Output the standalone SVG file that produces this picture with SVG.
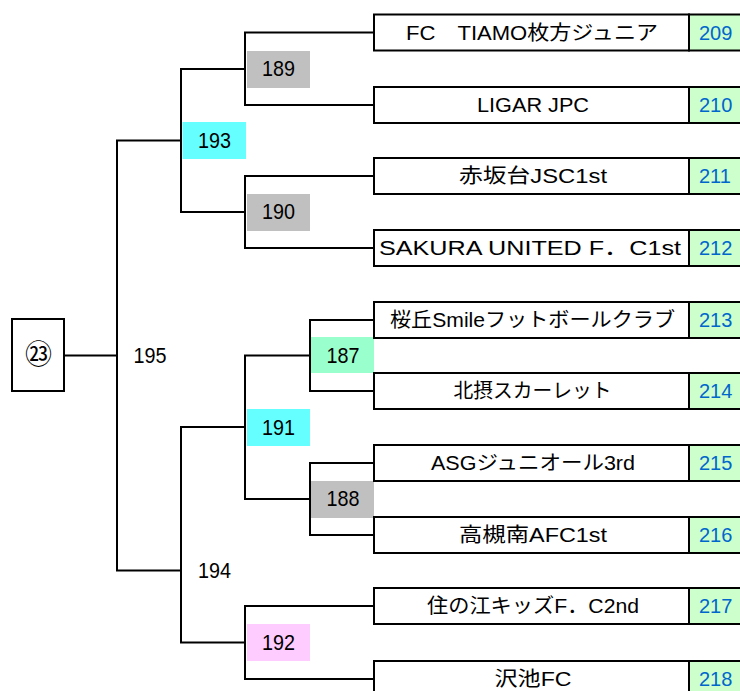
<svg xmlns="http://www.w3.org/2000/svg" width="740" height="691" viewBox="0 0 740 691">
<style>
.ln{fill:none;stroke:#000;stroke-width:2;stroke-linecap:square}
.box{fill:#fff;stroke:#000;stroke-width:2}
.num{fill:#CCFFCC;stroke:#000;stroke-width:2}
.nm{font-family:"Liberation Sans","Noto Sans CJK JP",sans-serif;font-size:20px;fill:#000;text-anchor:middle}
.no{font-family:"Liberation Sans",sans-serif;font-size:20px;fill:#0066CC}
.lb{font-family:"Liberation Sans",sans-serif;font-size:22px;fill:#000;text-anchor:middle}
.gray{fill:#C0C0C0}.cyan{fill:#66FFFF}.mint{fill:#99FFCC}.pink{fill:#FFCCFF}
</style>
<rect width="740" height="691" fill="#fff"/>
<g id="connectors">
<path class="ln" d="M64 355.5H117M117 140.5V570.5M117 140.5H181M181 69V212M181 69H245M245 32.5V105M245 32.5H374M245 105H374M181 212H245M245 176V248M245 176H374M245 248H374M117 570.5H181M181 427V642.5M181 427H245M245 355.5V499M245 355.5H310M310 320V391M310 320H374M310 391H374M245 499H310M310 463V535M310 463H374M310 535H374M181 642.5H245M245 606V679M245 606H374M245 679H374"/>
</g>
<g id="node-23"><rect class="box" x="12" y="319" width="52" height="72"/><text x="38.5" y="364" font-family="'Noto Sans CJK JP',sans-serif" font-size="27" text-anchor="middle">㉓</text></g>
<g id="m195"><text class="lb" x="150" y="362.5" textLength="33" lengthAdjust="spacingAndGlyphs">195</text></g>
<g id="m194"><text class="lb" x="214.5" y="577.5" textLength="33" lengthAdjust="spacingAndGlyphs">194</text></g>
<g id="m193"><rect class="cyan" x="182.5" y="122" width="63.5" height="37"/><text class="lb" x="214.5" y="147.5" textLength="33" lengthAdjust="spacingAndGlyphs">193</text></g>
<g id="m189"><rect class="gray" x="247" y="51" width="63" height="37"/><text class="lb" x="278.5" y="76" textLength="33" lengthAdjust="spacingAndGlyphs">189</text></g>
<g id="m190"><rect class="gray" x="247" y="194" width="63" height="37"/><text class="lb" x="278.5" y="219" textLength="33" lengthAdjust="spacingAndGlyphs">190</text></g>
<g id="m191"><rect class="cyan" x="247" y="409" width="63" height="37"/><text class="lb" x="278.5" y="434.5" textLength="33" lengthAdjust="spacingAndGlyphs">191</text></g>
<g id="m187"><rect class="mint" x="311" y="337" width="63" height="36"/><text class="lb" x="343" y="362.5" textLength="33" lengthAdjust="spacingAndGlyphs">187</text></g>
<g id="m188"><rect class="gray" x="311" y="481" width="63" height="37"/><text class="lb" x="343" y="506" textLength="33" lengthAdjust="spacingAndGlyphs">188</text></g>
<g id="m192"><rect class="pink" x="247" y="624" width="63" height="37"/><text class="lb" x="278.5" y="649.5" textLength="33" lengthAdjust="spacingAndGlyphs">192</text></g>
<g id="t209"><rect class="box" x="374" y="14.5" width="315" height="36"/><rect class="num" x="689" y="14.5" width="60" height="36"/><text class="nm" x="532" y="39.5" textLength="252" lengthAdjust="spacingAndGlyphs">FC　TIAMO枚方ジュニア</text><text class="no" x="699" y="39.5">209</text></g>
<g id="t210"><rect class="box" x="374" y="87" width="315" height="36"/><rect class="num" x="689" y="87" width="60" height="36"/><text class="nm" x="533" y="112" textLength="112" lengthAdjust="spacingAndGlyphs">LIGAR JPC</text><text class="no" x="699" y="112">210</text></g>
<g id="t211"><rect class="box" x="374" y="158" width="315" height="36"/><rect class="num" x="689" y="158" width="60" height="36"/><text class="nm" x="533" y="183" textLength="148" lengthAdjust="spacingAndGlyphs">赤坂台JSC1st</text><text class="no" x="699" y="183">211</text></g>
<g id="t212"><rect class="box" x="374" y="230" width="315" height="36"/><rect class="num" x="689" y="230" width="60" height="36"/><text class="nm" x="530" y="255" textLength="302" lengthAdjust="spacingAndGlyphs">SAKURA UNITED F．C1st</text><text class="no" x="699" y="255">212</text></g>
<g id="t213"><rect class="box" x="374" y="302" width="315" height="36"/><rect class="num" x="689" y="302" width="60" height="36"/><text class="nm" x="532.5" y="327" textLength="285" lengthAdjust="spacingAndGlyphs">桜丘Smileフットボールクラブ</text><text class="no" x="699" y="327">213</text></g>
<g id="t214"><rect class="box" x="374" y="373" width="315" height="36"/><rect class="num" x="689" y="373" width="60" height="36"/><text class="nm" x="532.5" y="398" textLength="158" lengthAdjust="spacingAndGlyphs">北摂スカーレット</text><text class="no" x="699" y="398">214</text></g>
<g id="t215"><rect class="box" x="374" y="445" width="315" height="36"/><rect class="num" x="689" y="445" width="60" height="36"/><text class="nm" x="533" y="470" textLength="204" lengthAdjust="spacingAndGlyphs">ASGジュニオール3rd</text><text class="no" x="699" y="470">215</text></g>
<g id="t216"><rect class="box" x="374" y="517" width="315" height="36"/><rect class="num" x="689" y="517" width="60" height="36"/><text class="nm" x="533" y="542" textLength="148" lengthAdjust="spacingAndGlyphs">高槻南AFC1st</text><text class="no" x="699" y="542">216</text></g>
<g id="t217"><rect class="box" x="374" y="588" width="315" height="36"/><rect class="num" x="689" y="588" width="60" height="36"/><text class="nm" x="533" y="613" textLength="212" lengthAdjust="spacingAndGlyphs">住の江キッズF．C2nd</text><text class="no" x="699" y="613">217</text></g>
<g id="t218"><rect class="box" x="374" y="661" width="315" height="36"/><rect class="num" x="689" y="661" width="60" height="36"/><text class="nm" x="533" y="686" textLength="77" lengthAdjust="spacingAndGlyphs">沢池FC</text><text class="no" x="699" y="686">218</text></g>
</svg>
